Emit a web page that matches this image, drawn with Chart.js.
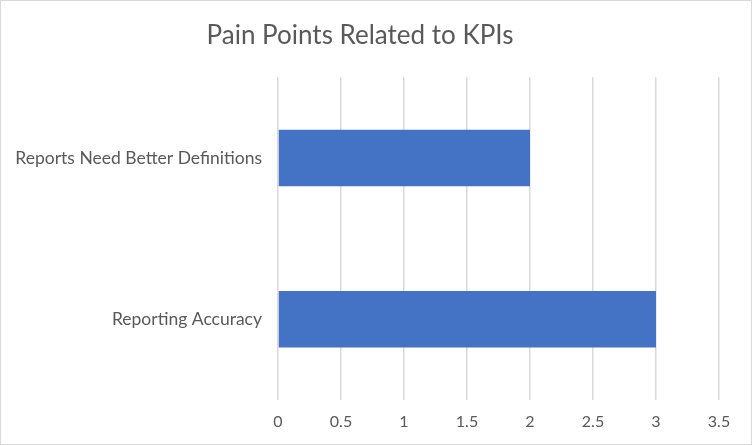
<!DOCTYPE html>
<html>
<head>
<meta charset="utf-8">
<script src="https://cdn.jsdelivr.net/npm/chart.js@4/dist/chart.umd.min.js"></script>
<style>
    html, body { margin: 0; padding: 0; background: #fff; }
    #wrap {
        width: 752px;
        height: 445px;
        box-sizing: border-box;
        border: 1px solid #d9d9d9;
        position: relative;
    }
</style>
</head>
<body>
<div id="wrap"><canvas id="painChart"></canvas></div>
<script>
const categories = ['Reports Need Better Definitions', 'Reporting Accuracy'];
const counts = [2, 3];
const xTicks = [0, 0.5, 1, 1.5, 2, 2.5, 3, 3.5];

const ctx = document.getElementById('painChart').getContext('2d');
new Chart(ctx, {
    type: 'bar',
    data: {
        labels: categories,
        datasets: [{
            data: counts,
            backgroundColor: '#4472C4',
            borderWidth: 0,
            barPercentage: 0.35,
            categoryPercentage: 1.0
        }]
    },
    options: {
        indexAxis: 'y',
        responsive: true,
        maintainAspectRatio: false,
        animation: false,
        layout: {
            padding: { left: 0, right: 32, top: 0, bottom: 0 }
        },
        plugins: {
            legend: { display: false },
            tooltip: { enabled: false },
            title: {
                display: true,
                text: 'Pain Points Related to KPIs',
                color: '#595959',
                font: { family: 'Lato', size: 26, weight: 'normal' },
                padding: { top: 19, bottom: 26 }
            }
        },
        scales: {
            x: {
                min: xTicks[0],
                max: xTicks[xTicks.length - 1],
                afterBuildTicks: function(axis) {
                    axis.ticks = xTicks.map(v => ({ value: v }));
                },
                grid: {
                    color: '#d9d9d9',
                    lineWidth: 1.5,
                    drawTicks: false
                },
                border: { display: false },
                ticks: {
                    color: '#595959',
                    font: { family: 'Lato', size: 16 },
                    padding: 12,
                    callback: function(value) { return String(value); }
                },
                afterFit: function(axis) { axis.height = 44; }
            },
            y: {
                grid: { display: false },
                border: { display: false },
                ticks: {
                    color: '#595959',
                    font: { family: 'Lato', size: 17.5 },
                    padding: 8
                },
                afterFit: function(axis) { axis.width = 277; }
            }
        }
    }
});
</script>
</body>
</html>
